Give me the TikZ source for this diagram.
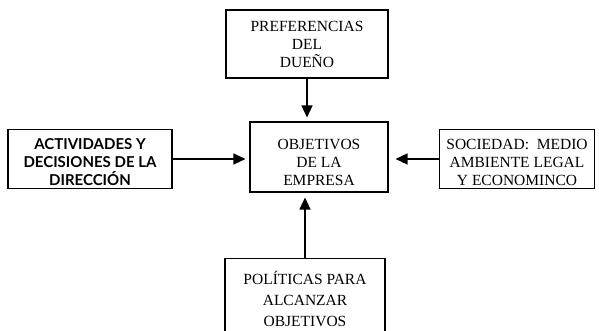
\documentclass[tikz,border=0pt]{standalone}
\usepackage{fontspec}
\setmainfont{Liberation Serif}
\newfontfamily\latofont{Lato}
\usetikzlibrary{arrows.meta}
\begin{document}
\begin{tikzpicture}[x=1pt,y=1pt,
    caja/.style={draw,line width=1.1pt,align=center,inner sep=2pt,font=\fontsize{15.5}{18}\selectfont},
    flecha/.style={line width=1.4pt,-{Triangle[length=12pt,width=11pt]}}]
  \useasboundingbox (0,0) rectangle (599,-331);
  \node[caja,minimum width=162pt,minimum height=68pt] (pref) at (307,-44) {PREFERENCIAS\\DEL\\DUEÑO};
  \node[caja,minimum width=138pt,minimum height=70pt,text height=58pt] (obj) at (319,-157) {OBJETIVOS\\DE LA\\EMPRESA};
  \node[caja,minimum width=164pt,minimum height=58pt,text height=54pt,font=\latofont\bfseries\fontsize{15}{18}\selectfont] (act) at (90,-159) {ACTIVIDADES Y\\DECISIONES DE LA\\DIRECCIÓN};
  \node[caja,minimum width=155pt,minimum height=58pt,text height=54pt] (soc) at (517,-159) {SOCIEDAD:\ \ MEDIO\\AMBIENTE LEGAL\\Y ECONOMINCO};
  \node[caja,minimum width=160pt,minimum height=80pt,anchor=north,font=\fontsize{15.5}{21}\selectfont] (pol) at (305,-258) {POLÍTICAS PARA\\ALCANZAR\\OBJETIVOS};
  \draw[flecha,shorten >=4pt] (pref.south) -- (pref.south |- obj.north);
  \draw[flecha,shorten >=4pt] (act.east) -- (act.east -| obj.west);
  \draw[flecha,shorten >=7pt] (soc.west) -- (soc.west -| obj.east);
  \draw[flecha,shorten >=5pt] (pol.north) -- (pol.north |- obj.south);
\end{tikzpicture}
\end{document}
